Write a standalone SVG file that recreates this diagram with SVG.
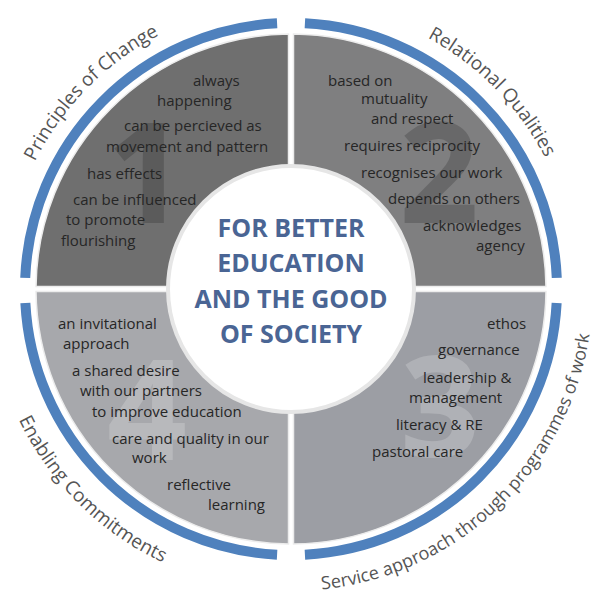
<svg xmlns="http://www.w3.org/2000/svg" width="602" height="602" viewBox="0 0 602 602">
<defs>
<style>
.q{stroke:#ececec;stroke-width:1.5}
.arc{fill:none;stroke:#4F81BD;stroke-width:10}
.big{font-family:"Open Sans","Liberation Sans",sans-serif;font-weight:bold;font-size:140px;text-anchor:middle}
.dk{fill:#000;fill-opacity:0.18}
.lt{fill:#fff;fill-opacity:0.2}
.t{font-family:"Open Sans","Liberation Sans",sans-serif;font-size:15px;fill:#262626}
.lab{font-family:"Open Sans","Liberation Sans",sans-serif;font-size:19px;fill:#555555;text-anchor:middle}
.lab3{font-size:18px}
.ctr{font-family:"Open Sans","Liberation Sans",sans-serif;font-weight:bold;font-size:25px;fill:#4A6594;text-anchor:middle}
</style>
<path id="p1" d="M5.88,266.56 A286,286 0 0 1 263.59,4.32"/>
<path id="p2" d="M318.91,4.36 A286,286 0 0 1 576.16,267.06"/>
<path id="p3" d="M257.34,589.12 A302,302 0 0 0 592.40,270.04"/>
<path id="p4" d="M-9.73,316.63 A302,302 0 0 0 265.99,589.96"/>
</defs>
<rect width="602" height="602" fill="#fff"/>

<g id="q1-principles-of-change">
<path class="q" fill="#6F6F6F" d="M288.5,286.5 V34.01 A255,255 0 0 0 36.01,286.5 Z"/>
<text class="big dk" x="146" y="223">1</text>
<path class="arc" d="M25.23,277.86 A266,266 0 0 1 277.08,23.36"/>
<text class="lab"><textPath href="#p1" startOffset="50%">Principles of Change</textPath></text>
<text class="t" x="193" y="86">always</text>
<text class="t" x="157" y="106">happening</text>
<text class="t" x="124" y="131">can be percieved as</text>
<text class="t" x="106" y="152">movement and pattern</text>
<text class="t" x="87" y="179">has effects</text>
<text class="t" x="73" y="205">can be influenced</text>
<text class="t" x="66" y="225">to promote</text>
<text class="t" x="61" y="246">flourishing</text>
</g>

<g id="q2-relational-qualities">
<path class="q" fill="#7F7F80" d="M293.5,286.5 V34.01 A255,255 0 0 1 545.99,286.5 Z"/>
<text class="big dk" x="439" y="223">2</text>
<path class="arc" d="M304.92,23.36 A266,266 0 0 1 556.77,277.86"/>
<text class="lab"><textPath href="#p2" startOffset="50%">Relational Qualities</textPath></text>
<text class="t" x="328" y="86">based on</text>
<text class="t" x="361" y="104">mutuality</text>
<text class="t" x="371" y="124">and respect</text>
<text class="t" x="344" y="151">requires reciprocity</text>
<text class="t" x="361" y="178">recognises our work</text>
<text class="t" x="388" y="204">depends on others</text>
<text class="t" x="423" y="231">acknowledges</text>
<text class="t" x="476" y="251">agency</text>
</g>

<g id="q3-service-approach">
<path class="q" fill="#9C9EA4" d="M293.5,291.5 H545.99 A255,255 0 0 1 293.5,543.99 Z"/>
<text class="big lt" x="440" y="457">3</text>
<path class="arc" d="M556.64,302.92 A266,266 0 0 1 304.92,554.64"/>
<text class="lab lab3"><textPath href="#p3" startOffset="50%">Service approach through programmes of work</textPath></text>
<text class="t" x="487" y="329">ethos</text>
<text class="t" x="438" y="355">governance</text>
<text class="t" x="423" y="383">leadership &amp;</text>
<text class="t" x="409" y="403">management</text>
<text class="t" x="396" y="430">literacy &amp; RE</text>
<text class="t" x="372" y="457">pastoral care</text>
</g>

<g id="q4-enabling-commitments">
<path class="q" fill="#A7A8AC" d="M288.5,291.5 V543.99 A255,255 0 0 1 36.01,291.5 Z"/>
<text class="big lt" x="147" y="460">4</text>
<path class="arc" d="M277.08,554.64 A266,266 0 0 1 25.36,302.92"/>
<text class="lab"><textPath href="#p4" startOffset="50%">Enabling Commitments</textPath></text>
<text class="t" x="58" y="329">an invitational</text>
<text class="t" x="63" y="349">approach</text>
<text class="t" x="72" y="376">a shared desire</text>
<text class="t" x="80" y="396">with our partners</text>
<text class="t" x="92" y="417">to improve education</text>
<text class="t" x="112" y="444">care and quality in our</text>
<text class="t" x="132" y="463">work</text>
<text class="t" x="167" y="490">reflective</text>
<text class="t" x="208" y="510">learning</text>
</g>

<g id="center">
<circle cx="291" cy="289" r="123" fill="#fff" stroke="#e6e6e6" stroke-width="4"/>
<text class="ctr" x="291" y="237">FOR BETTER</text>
<text class="ctr" x="291" y="272">EDUCATION</text>
<text class="ctr" x="291" y="308">AND THE GOOD</text>
<text class="ctr" x="291" y="343">OF SOCIETY</text>
</g>

<g id="connectors"></g>
</svg>
